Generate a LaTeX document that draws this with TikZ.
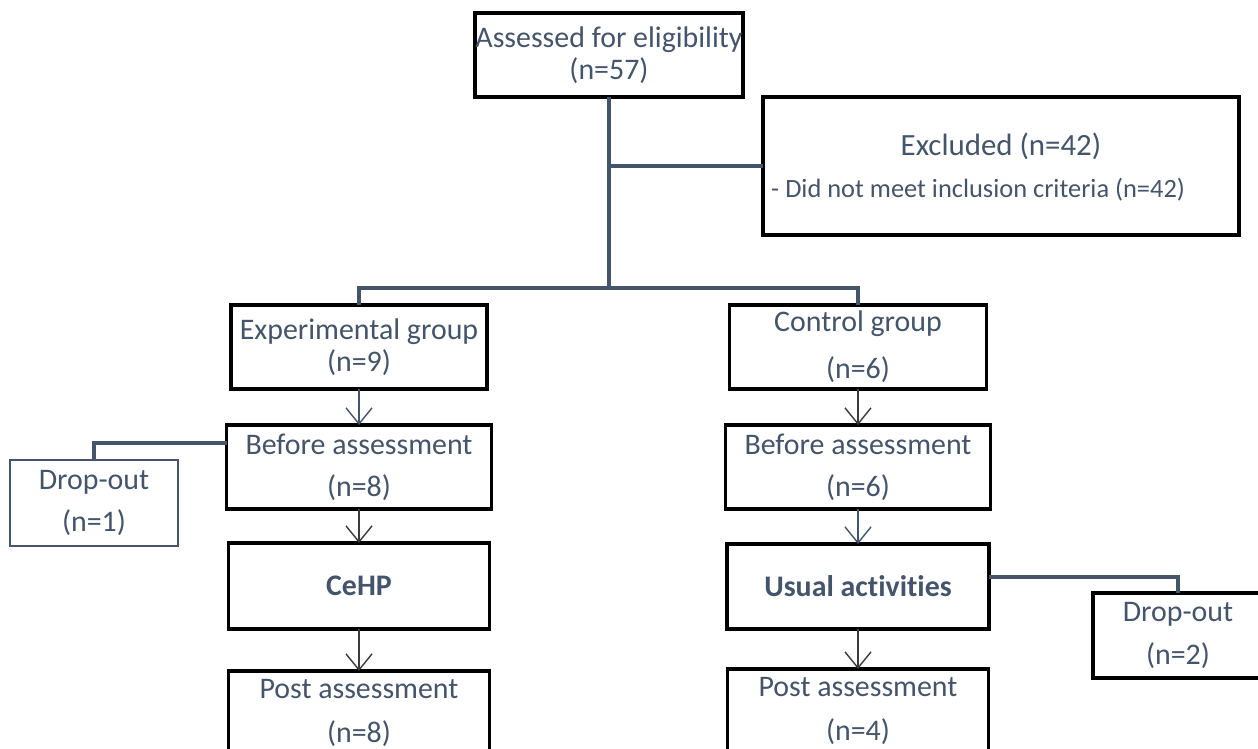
\documentclass[tikz,border=0pt]{standalone}
\usepackage{fontspec}
\setmainfont{Carlito}[Ligatures=NoCommon]
\usetikzlibrary{arrows.meta}
\definecolor{txt}{HTML}{44546A}
\definecolor{connc}{HTML}{44546A}
\definecolor{arrc}{HTML}{3A3A3A}
\begin{document}
\begin{tikzpicture}[x=1bp,y=-1bp,
  box/.style={draw=black, line width=3.2bp, inner sep=0pt, outer sep=0pt, text=txt, align=center,
    font=\fontsize{30}{32}\selectfont},
  softbox/.style={box, draw=connc, line width=2.6bp},
  connline/.style={draw=connc, line width=3.2bp},
  arrowthin/.style={draw=arrc, line width=1.4bp, -{Straight Barb[length=16bp,width=26bp,line width=1.4bp]}},
  arrowthick/.style={draw=connc, line width=2.8bp, -{Straight Barb[length=16bp,width=26bp,line width=1.4bp]}},
]
\useasboundingbox (0,0) rectangle (1258,749);
\clip (0,0) rectangle (1258,749);

% boxes
\node[box, minimum width=268bp, minimum height=84bp] (top) at (609,55) {Assessed for eligibility\\(n=57)};
\node[box, minimum width=476bp, minimum height=138bp] (excl) at (1001,166) {};
\node[text=txt, font=\fontsize{31}{32}\selectfont, inner sep=0pt] (exclA) at (1001,146) {Excluded (n=42)};
\node[text=txt, font=\fontsize{26.5}{32}\selectfont, inner sep=0pt, anchor=west] (exclB) at (771,190) {- Did not meet inclusion criteria (n=42)};

\node[box, minimum width=256bp, minimum height=84bp] (exp) at (359,347) {Experimental group\\(n=9)};
\node[box, minimum width=257bp, minimum height=84bp] (ctrl) at (858,347) {Control group\\[15bp](n=6)};

\node[box, minimum width=265bp, minimum height=84bp] (bef1) at (359,467) {Before assessment\\[10bp](n=8)};
\node[box, minimum width=265bp, minimum height=84bp] (bef2) at (858,467) {Before assessment\\[10bp](n=6)};

\node[softbox, minimum width=168bp, minimum height=86bp] (drop1) at (94,503) {Drop-out\\[11bp](n=1)};

\node[box, minimum width=261bp, minimum height=86bp, font=\fontsize{30}{32}\selectfont\bfseries] (cehp) at (359,586) {CeHP};
\node[box, minimum width=262bp, minimum height=85bp, font=\fontsize{30}{32}\selectfont\bfseries] (usual) at (858,586.5) {Usual activities};

\node[box, minimum width=170bp, minimum height=85bp] (drop2) at (1178,635.5) {Drop-out\\[11bp](n=2)};

\node[box, minimum width=261bp, minimum height=84bp] (post1) at (359,713) {Post assessment\\[13bp](n=8)};
\node[box, minimum width=261bp, minimum height=84bp] (post2) at (858,711) {Post assessment\\[13bp](n=4)};

% connectors
\coordinate (jEx) at (609,166);
\coordinate (jSplit) at (609,288);
\coordinate (jD1) at (227,443);
\coordinate (jD2) at (989,577);

\draw[connline] (top.south) -- (jSplit);
\draw[connline] (jEx) -- (excl.west);
\draw[connline] (exp.north) |- (jSplit) -| (ctrl.north);
\draw[connline] (jD1) -| (drop1.north);
\draw[connline] (jD2) -| (drop2.north);

% arrows
\draw[arrowthick] (exp.south) -- (exp.south |- bef1.north);
\draw[arrowthin] (ctrl.south) -- (ctrl.south |- bef2.north);
\draw[arrowthin] (bef1.south) -- (bef1.south |- cehp.north);
\draw[arrowthick] (bef2.south) -- (bef2.south |- usual.north);
\draw[arrowthin] (cehp.south) -- (cehp.south |- post1.north);
\draw[arrowthin] (usual.south) -- (usual.south |- post2.north);
\end{tikzpicture}
\end{document}
